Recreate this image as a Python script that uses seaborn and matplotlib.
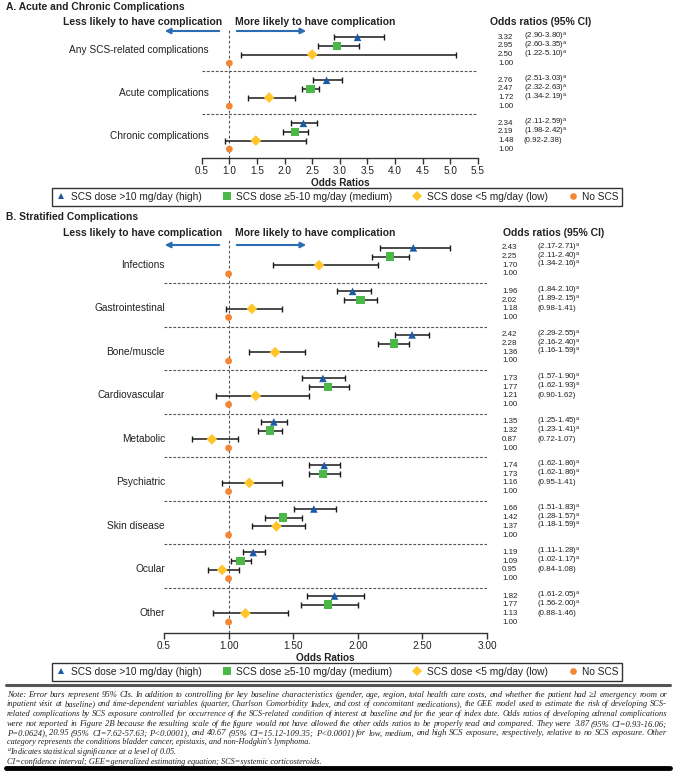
import math
import matplotlib
matplotlib.use("Agg")
import matplotlib.pyplot as plt
import matplotlib.transforms as mtransforms
from matplotlib.lines import Line2D
import seaborn as sns
import pandas as pd

# ---- data (panel A) ----
a_groups = ["Any SCS-related complications", "Acute complications", "Chronic complications"]
a_high = [3.32, 2.76, 2.34]
a_high_lo = [2.90, 2.51, 2.11]
a_high_hi = [3.80, 3.03, 2.59]
a_med = [2.95, 2.47, 2.19]
a_med_lo = [2.60, 2.32, 1.98]
a_med_hi = [3.35, 2.63, 2.42]
a_low = [2.50, 1.72, 1.48]
a_low_lo = [1.22, 1.34, 0.92]
a_low_hi = [5.10, 2.19, 2.38]

# ---- data (panel B) ----
b_groups = ["Infections", "Gastrointestinal", "Bone/muscle", "Cardiovascular", "Metabolic",
            "Psychiatric", "Skin disease", "Ocular", "Other"]
b_high = [2.43, 1.96, 2.42, 1.73, 1.35, 1.74, 1.66, 1.19, 1.82]
b_high_lo = [2.17, 1.84, 2.29, 1.57, 1.25, 1.62, 1.51, 1.11, 1.61]
b_high_hi = [2.71, 2.10, 2.55, 1.90, 1.45, 1.86, 1.83, 1.28, 2.05]
b_med = [2.25, 2.02, 2.28, 1.77, 1.32, 1.73, 1.42, 1.09, 1.77]
b_med_lo = [2.11, 1.89, 2.16, 1.62, 1.23, 1.62, 1.28, 1.02, 1.56]
b_med_hi = [2.40, 2.15, 2.40, 1.93, 1.41, 1.86, 1.57, 1.17, 2.00]
b_low = [1.70, 1.18, 1.36, 1.21, 0.87, 1.16, 1.37, 0.95, 1.13]
b_low_lo = [1.34, 0.98, 1.16, 0.90, 0.72, 0.95, 1.18, 0.84, 0.88]
b_low_hi = [2.16, 1.41, 1.59, 1.62, 1.07, 1.41, 1.59, 1.08, 1.46]

a_ticks = [0.5, 1.0, 1.5, 2.0, 2.5, 3.0, 3.5, 4.0, 4.5, 5.0, 5.5]
a_ticklabels = ["0.5", "1.0", "1.5", "2.0", "2.5", "3.0", "3.5", "4.0", "4.5", "5.0", "5.5"]
b_ticks = [0.5, 1.0, 1.5, 2.0, 2.5, 3.0]
b_ticklabels = ["0.5", "1.00", "1.50", "2.00", "2.50", "3.00"]

doses = ["SCS dose >10 mg/day (high)", "SCS dose \u22655-10 mg/day (medium)",
         "SCS dose <5 mg/day (low)", "No SCS"]

notes = [
    "Note: Error bars represent 95% CIs. In addition to controlling for key baseline characteristics (gender, age, region, total health care costs, and whether the patient had \u22651 emergency room or",
    "inpatient visit at baseline) and time-dependent variables (quarter, Charlson Comorbidity Index, and cost of concomitant medications), the GEE model used to estimate the risk of developing SCS-",
    "related complications by SCS exposure controlled for occurrence of the SCS-related condition of interest at baseline and for the year of index date. Odds ratios of developing adrenal complications",
    "were not reported in Figure 2B because the resulting scale of the figure would not have allowed the other odds ratios to be properly read and compared. They were 3.87 (95% CI=0.93-16.06;",
    "P=0.0624), 20.95 (95% CI=7.62-57.63; P<0.0001), and 40.67 (95% CI=15.12-109.35; P<0.0001) for low, medium, and high SCS exposure, respectively, relative to no SCS exposure. Other",
    "category represents the conditions bladder cancer, epistaxis, and non-Hodgkin's lymphoma.",
    "$^{a}$Indicates statistical significance at a level of 0.05.",
    "CI=confidence interval; GEE=generalized estimating equation; SCS=systemic corticosteroids.",
]

palette = {doses[0]: "#1B5AA6", doses[1]: "#4CB847", doses[2]: "#FFC52A", doses[3]: "#F58634"}
markers = {doses[0]: "^", doses[1]: "s", doses[2]: "D", doses[3]: "o"}
sizes = {doses[0]: 30, doses[1]: 38, doses[2]: 30, doses[3]: 24}
ARROW = "#2B6CB3"
DARK = "#333333"

sns.set_theme(style="white")
plt.rcParams["font.family"] = ["Liberation Sans", "DejaVu Sans"]
plt.rcParams["mathtext.default"] = "regular"

W, H = 676, 774
fig = plt.figure(figsize=(W / 100, H / 100), dpi=100)


def fx(p):
    return p / W


def fy(p):
    return 1 - p / H


def make_df(groups, series):
    rows = []
    for g in range(len(groups)):
        for r, (name, vals, lo, hi) in enumerate(series):
            rows.append(dict(group=groups[g], dose=name, y=g * 5 + r,
                             odds=vals[g], lo=lo[g], hi=hi[g]))
        rows.append(dict(group=groups[g], dose=doses[3], y=g * 5 + 3,
                         odds=1.0, lo=1.0, hi=1.0))
    return pd.DataFrame(rows)


def panel(df, groups, box, ylim, xlim, ticks, ticklabels, sep, label_x, label_row,
          num_x, ci_x, head_y, arrow_y, odds_x):
    left, right, top, bottom = box
    ax = fig.add_axes([fx(left), fy(bottom), fx(right) - fx(left), (bottom - top) / H])
    ci = df[df["dose"] != doses[3]]
    ax.errorbar(ci["odds"], ci["y"], xerr=[ci["odds"] - ci["lo"], ci["hi"] - ci["odds"]],
                fmt="none", ecolor="#1a1a1a", elinewidth=1.1, capsize=2.3, capthick=1.0, zorder=2)
    sns.scatterplot(data=df, x="odds", y="y", hue="dose", style="dose", size="dose",
                    palette=palette, markers=markers, sizes=sizes, linewidth=0,
                    legend=False, ax=ax, zorder=3)
    ax.axvline(1.0, color="#555555", lw=0.8, ls=(0, (2.5, 2)), zorder=1)
    for g in range(1, len(groups)):
        ax.axhline(g * 5 - 1 + sep, color="#555555", lw=0.8, ls=(0, (2.5, 1.5)), zorder=1)
    ax.set_xlim(*xlim)
    ax.set_ylim(*ylim)
    ax.set_xticks(ticks)
    ax.set_xticklabels(ticklabels)
    ax.set_yticks([])
    ax.set_xlabel("Odds Ratios", fontsize=7.2, fontweight="bold", color="#222222", labelpad=1)
    ax.set_ylabel("")
    for s in ["top", "right", "left"]:
        ax.spines[s].set_visible(False)
    ax.spines["bottom"].set_color(DARK)
    ax.spines["bottom"].set_linewidth(1.0)
    ax.tick_params(axis="x", bottom=True, length=4, width=1.0, color=DARK, pad=2,
                   labelsize=7.2, labelcolor="#222222")
    ax.set_facecolor("none")

    tr = mtransforms.blended_transform_factory(fig.transFigure, ax.transData)
    for g, name in enumerate(groups):
        ax.text(fx(label_x), g * 5 + label_row, name, transform=tr, ha="right", va="center",
                fontsize=7.3, color="#222222")
    for _, row in df.iterrows():
        ax.text(fx(num_x), row["y"], f"{row['odds']:.2f}", transform=tr, ha="left",
                va="center", fontsize=5.7, color="#222222")
        if row["dose"] != doses[3]:
            sig = row["lo"] > 1 or row["hi"] < 1
            s = f"({row['lo']:.2f}-{row['hi']:.2f})" + ("$^{a}$" if sig else "")
            ax.text(fx(ci_x), row["y"], s, transform=tr, ha="left", va="center",
                    fontsize=5.7, color="#222222")

    fig.text(fx(222), fy(head_y), "Less likely to have complication", ha="right", va="center",
             fontsize=7.5, fontweight="bold", color="#222222")
    fig.text(fx(235), fy(head_y), "More likely to have complication", ha="left", va="center",
             fontsize=7.5, fontweight="bold", color="#222222")
    fig.text(fx(odds_x), fy(head_y), "Odds ratios (95% CI)", ha="left", va="center",
             fontsize=7.5, fontweight="bold", color="#222222")
    for x_from, x_to in [(222, 162), (234, 309)]:
        fig.add_artist(matplotlib.patches.FancyArrowPatch(
            (fx(x_from), fy(arrow_y)), (fx(x_to), fy(arrow_y)), transform=fig.transFigure,
            arrowstyle="-|>", mutation_scale=8, lw=1.5, color=ARROW))
    return ax


def legend(y):
    handles = [Line2D([], [], ls="none", marker=markers[d], color=palette[d],
                      markersize=ms, markeredgewidth=0) for d, ms in zip(doses, [5, 5.5, 5.5, 4.8])]
    leg = fig.legend(handles, doses, loc="center", bbox_to_anchor=(fx(337), fy(y)), ncol=4,
                     fontsize=7.3, frameon=True, fancybox=False, edgecolor=DARK,
                     framealpha=1, handlelength=1.2, handletextpad=0.35, columnspacing=1.85,
                     borderpad=0.35, borderaxespad=0)
    leg.get_frame().set_linewidth(1.0)
    for t in leg.get_texts():
        t.set_color("#222222")


# ---- panel A ----
fig.text(fx(6), fy(7), "A. Acute and Chronic Complications", ha="left", va="center",
         fontsize=7.4, fontweight="bold", color="#222222")
df_a = make_df(a_groups, [(doses[0], a_high, a_high_lo, a_high_hi),
                          (doses[1], a_med, a_med_lo, a_med_hi),
                          (doses[2], a_low, a_low_lo, a_low_hi)])
panel(df_a, a_groups, (201.7, 478, 30, 158), (14.03, -0.85), (0.5, 5.5), a_ticks, a_ticklabels,
      -0.08, 209, 1.45, 498, 524, 22, 31, 490)
legend(197)

# ---- panel B ----
fig.text(fx(6), fy(217), "B. Stratified Complications", ha="left", va="center",
         fontsize=7.4, fontweight="bold", color="#222222")
df_b = make_df(b_groups, [(doses[0], b_high, b_high_lo, b_high_hi),
                          (doses[1], b_med, b_med_lo, b_med_hi),
                          (doses[2], b_low, b_low_lo, b_low_hi)])
panel(df_b, b_groups, (164, 487, 240, 633), (44.25, -0.9), (0.5, 3.0), b_ticks, b_ticklabels,
      0.06, 165, 1.95, 502, 537, 233, 245, 503)
legend(672)

# ---- notes: justified word by word, as in the journal footnote ----
fig.add_artist(Line2D([fx(6), fx(670)], [fy(685), fy(685)], transform=fig.transFigure,
                      color="#555555", lw=2.2))
fig.add_artist(Line2D([fx(6), fx(670)], [fy(768), fy(768)], transform=fig.transFigure,
                      color="#000000", lw=3.5))
renderer = fig.canvas.get_renderer()
note_kw = dict(ha="left", va="baseline", fontstyle="italic",
               family=["Liberation Serif", "DejaVu Serif"], color="#222222")
base_size = 5.95
x_left, x_right = 7, 667


def place(t, x, row):
    # keep every word on the same pixel baseline despite different descents
    _, _, d = renderer.get_text_width_height_descent(t.get_text(), t.get_fontproperties(), False)
    t.set_position((fx(x), (H - row - (math.ceil(d) - d)) / H))


for i, line in enumerate(notes):
    row = int(round(697 + i * 9.5))
    if i > 4:
        t = fig.text(0, 0, line, fontsize=base_size, **note_kw)
        t.set_position((fx(x_left), fy(row)))
        continue
    probe = fig.text(0, 0, line, fontsize=base_size, **note_kw)
    width = probe.get_window_extent(renderer).width
    probe.remove()
    size = min(6.2, base_size * (x_right - x_left) / width * 0.995)
    words = line.split(" ")
    objs = [fig.text(0, 0, w, fontsize=size, **note_kw) for w in words]
    widths = [o.get_window_extent(renderer).width for o in objs]
    gap = max(1.0, (x_right - x_left - sum(widths)) / (len(words) - 1))
    x = x_left
    for o, w in zip(objs, widths):
        place(o, x, row)
        x += w + gap

fig.savefig("out.png", dpi=100, facecolor="white")
